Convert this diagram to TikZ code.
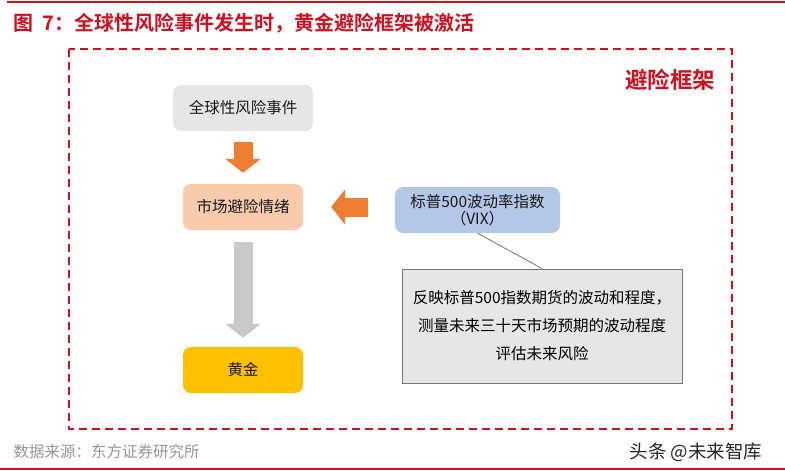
\documentclass[tikz,border=0pt]{standalone}
\usepackage{fontspec}
\setmainfont{Noto Sans CJK SC}[BoldFont={Noto Sans CJK SC Bold}]
\usetikzlibrary{positioning,arrows.meta}
\definecolor{framered}{RGB}{204,16,32}
\definecolor{riskgray}{RGB}{231,230,230}
\definecolor{moodpeach}{RGB}{248,203,173}
\definecolor{vixblue}{RGB}{180,199,231}
\definecolor{goldyellow}{RGB}{255,192,0}
\definecolor{notegray}{RGB}{118,118,118}
\definecolor{pushorange}{RGB}{237,125,49}
\definecolor{flowgray}{RGB}{201,201,201}
\definecolor{srcgray}{RGB}{150,150,150}

\tikzset{
  box/.style={rounded corners=8pt, minimum width=120pt, minimum height=46pt,
    inner sep=0pt, align=center, text=black!90,
    font=\fontsize{15.5}{19}\selectfont},
  blockarrow/.style={line width=19pt, -{Triangle[length=14pt,width=35pt]}},
}

\begin{document}
\begin{tikzpicture}[x=1pt, y=-1pt]
  \useasboundingbox (0,0) rectangle (785,471);
  \draw[framered, line width=2pt] (7,2) -- (785,2);
  \draw[framered, line width=2pt] (0,469) -- (785,469);
  \node[anchor=west, text=framered, font=\fontsize{20}{22}\selectfont\bfseries] (title) at (10,23)
    {图\hspace{9pt}7：全球性风险事件发生时，黄金避险框架被激活};

  \draw[framered, line width=2.5pt, dash pattern=on 8pt off 5pt] (69,49) rectangle (732,429);
  \node[text=framered, font=\fontsize{22.5}{24}\selectfont\bfseries] (frame) at (670,80) {避险框架};

  \node[box, fill=riskgray, minimum width=140pt] (risk) at (243,108) {全球性风险事件};
  \node[box, fill=moodpeach] (mood) at (243,207) {市场避险情绪};
  \node[box, fill=goldyellow] (gold) at (243,370) {黄金};
  \node[box, fill=vixblue, minimum width=165pt, font=\fontsize{15.5}{17}\selectfont] (vix) at (477.5,210)
    {标普500波动率指数\\（VIX）};
  \node[draw=notegray, line width=1pt, fill=riskgray, minimum width=280pt, minimum height=114pt,
    inner sep=0pt, align=center, font=\fontsize{15.5}{28}\selectfont] (note) at (542,326)
    {反映标普500指数期货的波动和程度，\\测量未来三十天市场预期的波动程度\\评估未来风险};

  \draw[blockarrow, pushorange, shorten <=11pt, shorten >=11pt] (risk) -- (mood);
  \draw[blockarrow, pushorange, shorten <=27pt, shorten >=28pt] (vix.west |- mood.east) -- (mood.east);
  \draw[blockarrow, flowgray, shorten <=12pt, shorten >=9pt] (mood) -- (gold);
  \draw[notegray, line width=0.8pt] (vix.south) -- (note.north);

  \node[anchor=west, text=srcgray, font=\fontsize{15.5}{18}\selectfont] (source) at (10,452) {数据来源：东方证券研究所};
  \node[anchor=east, text=black!85, font=\fontsize{18.5}{20}\selectfont] (mark) at (766,452) {头条 @未来智库};
\end{tikzpicture}
\end{document}
